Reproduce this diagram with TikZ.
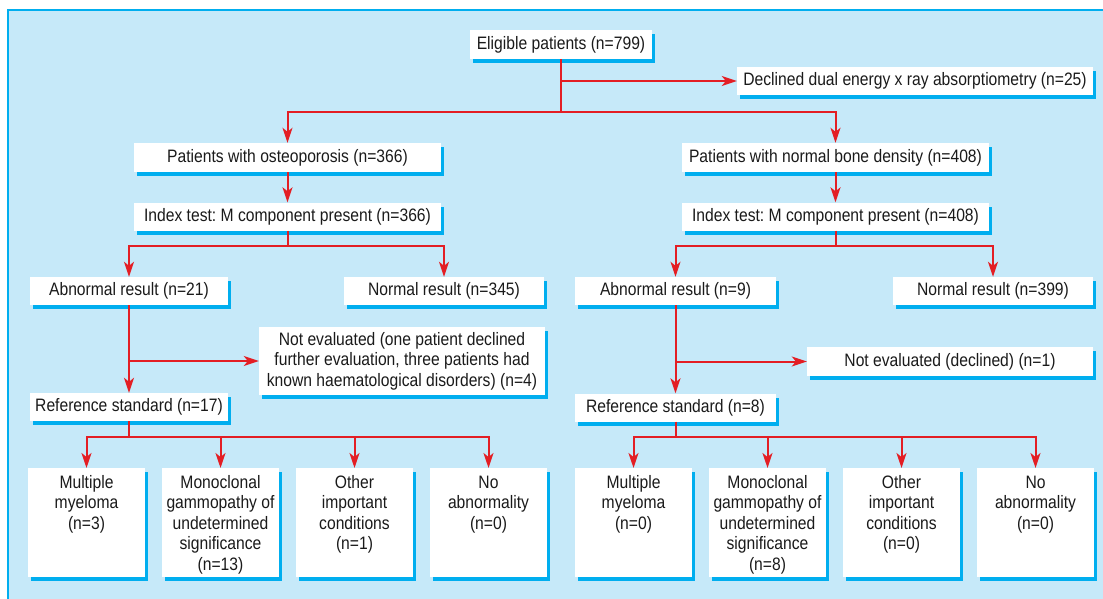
\documentclass[tikz,border=0pt]{standalone}
\usepackage{fontspec}
\setmainfont{Liberation Sans}[FakeStretch=0.87]
\usetikzlibrary{arrows.meta,shadows}
\definecolor{bg}{HTML}{C6E9F9}
\definecolor{cy}{HTML}{00AEEF}
\definecolor{rd}{HTML}{E31E24}
\definecolor{tx}{HTML}{1A1A1A}
\newcommand{\tbox}[2]{\parbox[t][109pt][t]{117pt}{\centering\rule{0pt}{20pt}#2}}
\frenchspacing
\begin{document}
\frenchspacing
\begin{tikzpicture}[x=1pt,y=-1pt,
 box/.style={fill=white, inner sep=0pt, text=tx, align=center,
   font=\fontsize{18}{20.5}\selectfont\frenchspacing,
   drop shadow={shadow xshift=3pt,shadow yshift=-4pt,fill=cy,opacity=1}},
 bbox/.style={box, minimum width=117pt, minimum height=109pt, anchor=north},
 ln/.style={draw=rd, line width=2pt},
 arr/.style={ln, -{Stealth[length=15pt,width=10pt,inset=4pt]}},
]
\useasboundingbox (0,0) rectangle (1103,599);
\fill[white] (0,0) rectangle (1103,599);
\fill[bg] (7,9) rectangle (1103,599);
\draw[cy, line width=2pt] (8,599) -- (8,10) -- (1103,10);

% top
\node[box, minimum width=182pt, minimum height=29pt] (elig) at (561,44.5) {Eligible patients (n=799)};
\node[box, minimum width=356pt, minimum height=28pt] (decl) at (915,81) {Declined dual energy x ray absorptiometry (n=25)};
\node[box, minimum width=307pt, minimum height=29pt] (posteo) at (287.5,157.5) {Patients with osteoporosis (n=366)};
\node[box, minimum width=307pt, minimum height=29pt] (pnorm) at (835.5,157.5) {Patients with normal bone density (n=408)};
\node[box, minimum width=307pt, minimum height=28pt] (itl) at (287.5,216.5) {Index test: M component present (n=366)};
\node[box, minimum width=307pt, minimum height=28pt] (itr) at (835.5,216.5) {Index test: M component present (n=408)};

% results
\node[box, minimum width=198pt, minimum height=28pt] (abl) at (129,291) {Abnormal result (n=21)};
\node[box, minimum width=200pt, minimum height=28pt] (nrl) at (444,291) {Normal result (n=345)};
\node[box, minimum width=201pt, minimum height=28pt] (abr) at (675.5,291) {Abnormal result (n=9)};
\node[box, minimum width=200pt, minimum height=28pt] (nrr) at (993,291) {Normal result (n=399)};

\node[box, minimum width=286pt, minimum height=68pt] (nel) at (402,361) {Not evaluated (one patient declined\\further evaluation, three patients had\\known haematological disorders) (n=4)};
\node[box, minimum width=286pt, minimum height=29pt] (ner) at (950,361.5) {Not evaluated (declined) (n=1)};

\node[box, minimum width=198pt, minimum height=28pt] (refl) at (129,407) {Reference standard (n=17)};
\node[box, minimum width=201pt, minimum height=28pt] (refr) at (675.5,407.5) {Reference standard (n=8)};

% bottom boxes
\node[bbox] (l1) at (86.5,468) {\tbox{}{Multiple\\myeloma\\(n=3)}};
\node[bbox] (l2) at (220.5,468) {\tbox{}{Monoclonal\\gammopathy of\\undetermined\\significance\\(n=13)}};
\node[bbox] (l3) at (354.5,468) {\tbox{}{Other\\important\\conditions\\(n=1)}};
\node[bbox] (l4) at (488.5,468) {\tbox{}{No\\abnormality\\(n=0)}};
\node[bbox] (r1) at (633.5,468) {\tbox{}{Multiple\\myeloma\\(n=0)}};
\node[bbox] (r2) at (767.5,468) {\tbox{}{Monoclonal\\gammopathy of\\undetermined\\significance\\(n=8)}};
\node[bbox] (r3) at (901.5,468) {\tbox{}{Other\\important\\conditions\\(n=0)}};
\node[bbox] (r4) at (1035.5,468) {\tbox{}{No\\abnormality\\(n=0)}};

% connectors
\coordinate (t1) at (561,112);
\draw[ln] (elig.south) -- (t1);
\draw[arr] (elig.south |- decl.west) -- (decl.west);
\draw[arr] (t1) -| (posteo.north);
\draw[arr] (t1) -| (pnorm.north);
\draw[arr] (posteo.south) -- (itl.north);
\draw[arr] (pnorm.south) -- (itr.north);

\coordinate (bl) at (287.5,246);
\coordinate (br) at (835.5,246);
\draw[ln] (itl.south) -- (bl);
\draw[ln] (itr.south) -- (br);
\draw[arr] (bl) -| (abl.north);
\draw[arr] (bl) -| (nrl.north);
\draw[arr] (br) -| (abr.north);
\draw[arr] (br) -| (nrr.north);

\draw[arr] (abl.south) -- (refl.north);
\draw[arr] (abl.south |- nel.west) -- (nel.west);
\draw[arr] (abr.south) -- (refr.north);
\draw[arr] (abr.south |- ner.west) -- (ner.west);

\coordinate (cl) at (129,437);
\coordinate (cr) at (675.5,437);
\draw[ln] (refl.south) -- (cl);
\draw[ln] (refr.south) -- (cr);
\foreach \n in {l1,l2,l3,l4} \draw[arr] (cl) -| (\n.north);
\foreach \n in {r1,r2,r3,r4} \draw[arr] (cr) -| (\n.north);
\end{tikzpicture}
\end{document}
